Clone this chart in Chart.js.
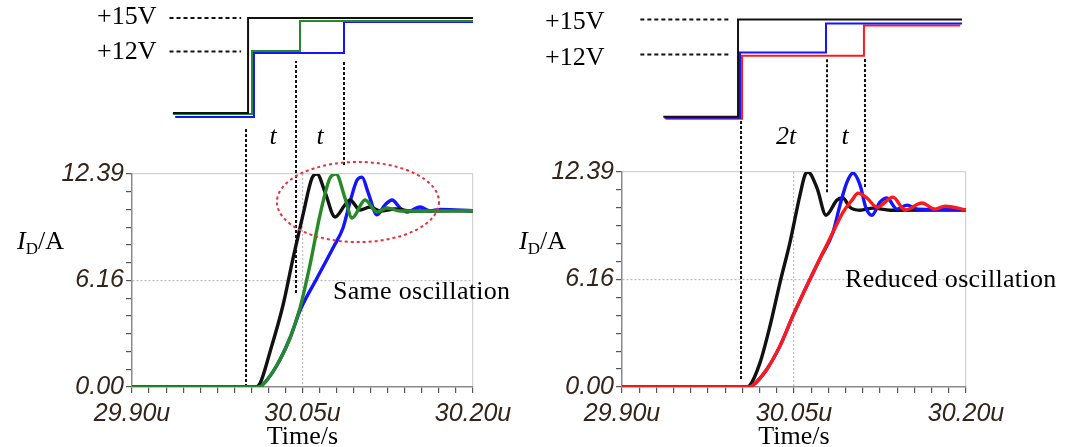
<!DOCTYPE html>
<html>
<head>
<meta charset="utf-8">
<script src="https://cdn.jsdelivr.net/npm/chart.js@4.4.1/dist/chart.umd.min.js"></script>
<style>
    body { margin: 0; background: #fff; width: 1070px; height: 447px; position: relative; overflow: hidden; }
    canvas { position: absolute; top: 0; }
    #leftChart { left: 0; }
    #rightChart { left: 500px; }
</style>
</head>
<body>
<canvas id="leftChart" width="535" height="447"></canvas>
<canvas id="rightChart" width="570" height="447"></canvas>
<script>
// Time axis (µs) and tick labels
const X_MIN = 29.90, X_MAX = 30.20, X_MINOR = 0.015;
const X_TICK_LABELS = ['29.90u', '30.05u', '30.20u'];
const Y_MAX = 12.39;
const Y_TICK_LABELS = ['0.00', '6.16', '12.39'];

// ---- Left panel: drain current I_D (A) ----
const L_BLACK_T = [29.90, 30.009, 30.0126, 30.0214, 30.0329, 30.0417, 30.0504, 30.0584, 30.0628, 30.0698, 30.0786, 30.0874, 30.0918, 30.1006, 30.1094, 30.1182, 30.1314, 30.1446, 30.20];
const L_BLACK_I = [0, 0, 0.2, 2.04, 4.77, 7.50, 10.01, 12.16, 12.39, 11.34, 9.89, 10.59, 10.88, 10.30, 10.47, 10.24, 10.35, 10.24, 10.25];
const L_GREEN_T = [29.90, 30.0117, 30.0153, 30.0276, 30.0390, 30.0478, 30.0566, 30.0654, 30.0742, 30.0795, 30.0874, 30.0936, 30.1050, 30.1156, 30.1244, 30.1358, 30.20];
const L_GREEN_I = [0, 0, 0.15, 1.28, 2.85, 4.60, 7.10, 10.01, 12.16, 12.39, 10.99, 9.83, 10.88, 10.18, 10.41, 10.24, 10.25];
const L_BLUE_T = [29.90, 30.0117, 30.0153, 30.0276, 30.0390, 30.0478, 30.0628, 30.0768, 30.0856, 30.0918, 30.0980, 30.1024, 30.1076, 30.1156, 30.1226, 30.1288, 30.1358, 30.1420, 30.1534, 30.1622, 30.171, 30.20];
const L_BLUE_I = [0, 0, 0.15, 1.28, 2.85, 4.45, 6.34, 8.09, 9.25, 10.76, 12.04, 12.21, 11.34, 10.01, 10.59, 10.88, 10.41, 10.18, 10.47, 10.24, 10.33, 10.25];

// Left panel: gate drive steps (V)
const L_GATE_BLACK_T = [29.936, 30.0021, 30.0021, 30.20];
const L_GATE_BLACK_V = [6.5, 6.5, 15, 15];
const L_GATE_GREEN_T = [29.936, 30.0056, 30.0056, 30.0478, 30.0478, 30.20];
const L_GATE_GREEN_V = [6.4, 6.4, 12.04, 12.04, 14.73, 14.73];
const L_GATE_BLUE_T = [29.938, 30.0073, 30.0073, 30.0865, 30.0865, 30.20];
const L_GATE_BLUE_V = [6.14, 6.14, 11.87, 11.87, 14.64, 14.64];
const L_REF_T = [29.933, 29.996];
// switching instants marked with dashed lines: time, bottom and top (A)
const L_MARK_T = [30.0003, 30.0443, 30.0865];
const L_MARK_LO = [0, 5.47, 12.91];
const L_MARK_HI = [15.05, 18.96, 18.96];

// ---- Right panel ----
const R_BLACK_T = [29.90, 30.008, 30.0116, 30.0203, 30.0291, 30.0378, 30.0465, 30.0552, 30.0596, 30.0622, 30.0701, 30.0779, 30.0875, 30.0927, 30.0988, 30.1076, 30.119, 30.134, 30.20];
const R_BLACK_I = [0, 0, 0.1, 1.39, 3.53, 6.02, 8.34, 11.06, 12.22, 12.39, 11.46, 9.90, 10.77, 10.89, 10.36, 10.19, 10.31, 10.19, 10.2];
const R_RED_T = [29.90, 30.011, 30.0142, 30.0265, 30.0378, 30.0491, 30.0613, 30.0727, 30.0840, 30.0927, 30.1006, 30.1058, 30.1137, 30.1224, 30.1363, 30.1468, 30.1616, 30.173, 30.1817, 30.20];
const R_RED_I = [0, 0, 0.1, 1.04, 2.37, 4.11, 5.85, 7.41, 8.92, 10.07, 10.77, 11.17, 10.89, 10.36, 10.94, 10.19, 10.60, 10.25, 10.42, 10.2];
const R_BLUE_T = [29.90, 30.011, 30.0142, 30.0265, 30.0378, 30.0491, 30.0613, 30.0727, 30.0840, 30.0901, 30.0962, 30.1015, 30.1076, 30.1128, 30.1180, 30.125, 30.1311, 30.1398, 30.1486, 30.158, 30.20];
const R_BLUE_I = [0, 0, 0.1, 1.04, 2.37, 4.11, 5.85, 7.41, 8.92, 10.48, 11.81, 12.33, 11.64, 10.31, 9.90, 10.65, 10.89, 10.25, 10.48, 10.25, 10.22];

const R_GATE_BLACK_T = [29.936, 30.0012, 30.0012, 30.1965];
const R_GATE_BLACK_V = [6.69, 6.69, 15, 15];
const R_GATE_BLUE_T = [29.937, 30.0029, 30.0029, 30.0779, 30.0779, 30.1965];
const R_GATE_BLUE_V = [6.6, 6.6, 12.17, 12.17, 14.66, 14.66];
const R_GATE_RED_T = [29.938, 30.0047, 30.0047, 30.111, 30.111, 30.195];
const R_GATE_RED_V = [6.52, 6.52, 11.91, 11.91, 14.49, 14.49];
const R_REF_T = [29.916, 29.993];
const R_MARK_T = [30.0038, 30.0788, 30.1119];
const R_MARK_LO = [0.46, 11.23, 11.52];
const R_MARK_HI = [15.4, 19.0, 19.0];

const BLACK = '#111111', GREEN = '#278a27', BLUE = '#1414ff', RED = '#ff1a1a';
const LABEL_COLOR = '#33251a';

const pts = (t, v) => t.map((x, i) => ({ x, y: v[i] }));

function currentSet(t, v, color) {
    return { data: pts(t, v), borderColor: color, borderWidth: 3.4, pointRadius: 0,
             cubicInterpolationMode: 'monotone', yAxisID: 'y' };
}
function gateSet(t, v, color) {
    return { data: pts(t, v), borderColor: color, borderWidth: 2, pointRadius: 0,
             yAxisID: 'yv', clip: false };
}
function refSet(t, level) {
    return { data: pts(t, [level, level]), borderColor: BLACK, borderWidth: 2, borderDash: [4, 3],
             pointRadius: 0, yAxisID: 'yv', clip: false };
}
function markSets(ts, lo, hi) {
    return ts.map((t, i) => ({ data: [{ x: t, y: lo[i] }, { x: t, y: hi[i] }], borderColor: BLACK,
        borderWidth: 2, borderDash: [3, 2], pointRadius: 0, yAxisID: 'y', clip: false }));
}

// texts, ellipse and the I_D/A axis title
const panelDecor = {
    id: 'panelDecor',
    afterDatasetsDraw(chart, args, o) {
        const ctx = chart.ctx;
        const xs = chart.scales.x, ys = chart.scales.y;
        ctx.save();
        if (o.ellipse) {
            const e = o.ellipse;
            const cx = xs.getPixelForValue(e.t), cy = ys.getPixelForValue(e.i);
            const rx = xs.getPixelForValue(e.t + e.rt) - cx;
            const ry = cy - ys.getPixelForValue(e.i + e.ri);
            ctx.beginPath();
            ctx.ellipse(cx, cy, rx, ry, 0, 0, Math.PI * 2);
            ctx.strokeStyle = '#e8303a';
            ctx.lineWidth = 2;
            ctx.setLineDash([3, 3]);
            ctx.stroke();
            ctx.setLineDash([]);
        }
        ctx.fillStyle = '#000';
        ctx.textBaseline = 'middle';
        for (const t of o.texts) {
            ctx.font = t.font;
            ctx.textAlign = t.align || 'left';
            ctx.letterSpacing = t.spacing || '0px';
            ctx.fillText(t.text, t.x, t.y);
        }
        ctx.letterSpacing = '0px';
        // y title: I with subscript D, then /A
        ctx.textAlign = 'left';
        ctx.textBaseline = 'alphabetic';
        let px = o.yTitle.x;
        const base = o.yTitle.y;
        ctx.font = 'italic 26px "Liberation Serif"';
        ctx.fillText('I', px, base);
        px += ctx.measureText('I').width;
        ctx.font = '17px "Liberation Serif"';
        ctx.fillText('D', px, base + 5);
        px += ctx.measureText('D').width;
        ctx.font = '26px "Liberation Serif"';
        ctx.fillText('/A', px, base);
        ctx.restore();
    }
};

function buildPanel(id, cfg) {
    new Chart(document.getElementById(id), {
        type: 'line',
        data: { datasets: cfg.datasets },
        plugins: [panelDecor],
        options: {
            responsive: false,
            animation: false,
            events: [],
            layout: { padding: { top: cfg.top, right: cfg.right, left: 0, bottom: 0 } },
            plugins: {
                legend: { display: false },
                tooltip: { enabled: false },
                panelDecor: { texts: cfg.texts, ellipse: cfg.ellipse, yTitle: cfg.yTitle }
            },
            scales: {
                x: {
                    type: 'linear', min: X_MIN, max: X_MAX,
                    afterBuildTicks: s => {
                        s.ticks = Array.from({ length: 21 }, (_, i) => ({ value: X_MIN + i * X_MINOR }));
                    },
                    afterFit: s => { s.height = 60; },
                    ticks: {
                        autoSkip: false, maxRotation: 0, padding: 6, color: LABEL_COLOR,
                        font: { family: 'Liberation Sans', style: 'italic', size: 25 },
                        callback: (v, i) => i % 10 === 0 ? X_TICK_LABELS[i / 10] : ''
                    },
                    grid: {
                        color: c => c.index === 10 ? '#bdbdbd' : c.index === 20 ? '#d2d2d2' : 'rgba(0,0,0,0)',
                        lineWidth: 1.2, tickLength: 6, tickColor: '#555', tickWidth: 1.2
                    },
                    border: { color: '#8a8a8a', width: 1.5, dash: c => c.index === 10 ? [2, 2] : [] },
                    title: {
                        display: true, text: 'Time/s', color: '#000',
                        font: { family: 'Liberation Serif', size: 26, lineHeight: 0.75 },
                        padding: { top: 0, bottom: 0 }
                    }
                },
                y: {
                    type: 'linear', min: 0, max: Y_MAX,
                    afterBuildTicks: s => {
                        s.ticks = Array.from({ length: 13 }, (_, i) => ({ value: i * Y_MAX / 12 }));
                    },
                    afterFit: s => { s.width = cfg.left; },
                    ticks: {
                        autoSkip: false, padding: 2, color: LABEL_COLOR,
                        font: { family: 'Liberation Sans', style: 'italic', size: 25 },
                        callback: (v, i) => i % 6 === 0 ? Y_TICK_LABELS[i / 6] : ''
                    },
                    grid: {
                        color: c => c.index === 6 ? '#bdbdbd' : c.index === 12 ? '#d2d2d2' : 'rgba(0,0,0,0)',
                        lineWidth: 1.2, tickLength: 6, tickColor: '#555', tickWidth: 1.2
                    },
                    border: { color: '#8a8a8a', width: 1.5, dash: c => c.index === 6 ? [2, 2] : [] }
                },
                yv: { type: 'linear', display: false, position: 'right', min: cfg.vMin, max: cfg.vMax }
            }
        }
    });
}

const SERIF = '26px "Liberation Serif"';
const SERIF_IT = 'italic 26px "Liberation Serif"';

buildPanel('leftChart', {
    top: 174, right: 62, left: 132, vMin: -18.04, vMax: 1.03,
    datasets: [
        currentSet(L_GREEN_T, L_GREEN_I, GREEN),
        currentSet(L_BLACK_T, L_BLACK_I, BLACK),
        currentSet(L_BLUE_T, L_BLUE_I, BLUE),
        gateSet(L_GATE_BLACK_T, L_GATE_BLACK_V, BLACK),
        gateSet(L_GATE_GREEN_T, L_GATE_GREEN_V, GREEN),
        gateSet(L_GATE_BLUE_T, L_GATE_BLUE_V, BLUE),
        refSet(L_REF_T, 15),
        refSet(L_REF_T, 12),
        ...markSets(L_MARK_T, L_MARK_LO, L_MARK_HI)
    ],
    ellipse: { t: 30.0988, i: 10.76, rt: 0.0713, ri: 2.33 },
    yTitle: { x: 17, y: 249 },
    texts: [
        { text: '+15V', x: 97, y: 17, font: SERIF },
        { text: '+12V', x: 97, y: 52, font: SERIF },
        { text: 't', x: 273, y: 137, font: SERIF_IT, align: 'center' },
        { text: 't', x: 320, y: 137, font: SERIF_IT, align: 'center' },
        { text: 'Same oscillation', x: 333, y: 292, font: SERIF, spacing: '0.3px' }
    ]
});

buildPanel('rightChart', {
    top: 172, right: 104, left: 122, vMin: -16.37, vMax: 1.98,
    datasets: [
        currentSet(R_RED_T, R_RED_I, RED),
        currentSet(R_BLUE_T, R_BLUE_I, BLUE),
        currentSet(R_BLACK_T, R_BLACK_I, BLACK),
        gateSet(R_GATE_BLACK_T, R_GATE_BLACK_V, BLACK),
        gateSet(R_GATE_BLUE_T, R_GATE_BLUE_V, BLUE),
        gateSet(R_GATE_RED_T, R_GATE_RED_V, RED),
        refSet(R_REF_T, 15),
        refSet(R_REF_T, 12),
        ...markSets(R_MARK_T, R_MARK_LO, R_MARK_HI)
    ],
    ellipse: null,
    yTitle: { x: 19, y: 249 },
    texts: [
        { text: '+15V', x: 45, y: 22, font: SERIF },
        { text: '+12V', x: 45, y: 58, font: SERIF },
        { text: '2t', x: 286, y: 137, font: SERIF_IT, align: 'center' },
        { text: 't', x: 345, y: 137, font: SERIF_IT, align: 'center' },
        { text: 'Reduced oscillation', x: 345, y: 280, font: SERIF, spacing: '0.3px' }
    ]
});
</script>
</body>
</html>
